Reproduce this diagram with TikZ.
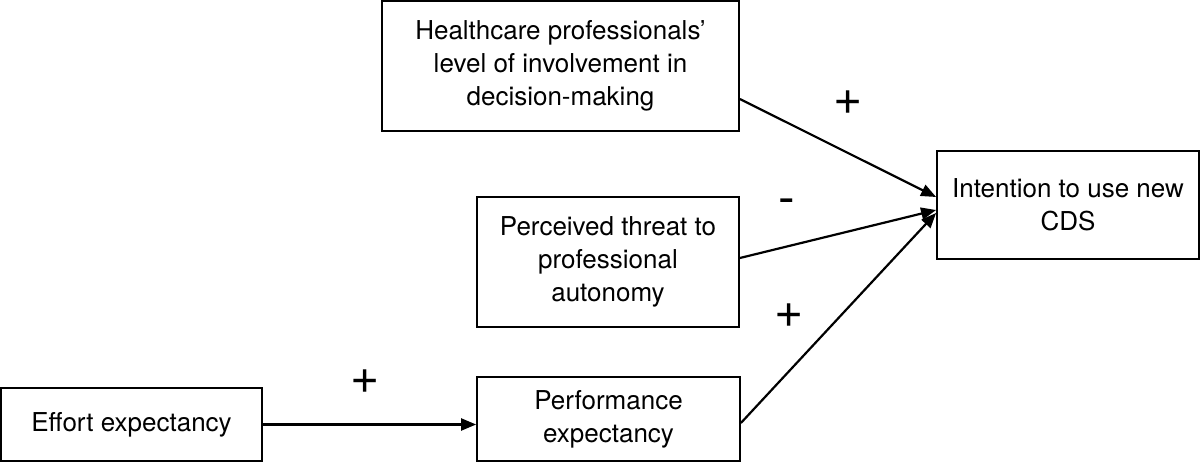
\documentclass[tikz,border=0pt]{standalone}
\usepackage{fontspec}
\setmainfont{TeX Gyre Heros}
\usetikzlibrary{arrows.meta}
\tikzset{
	factor/.style={draw,line width=1.8pt,inner sep=0pt,align=center,
		font=\fontsize{26}{33}\selectfont},
	link/.style={line width=2.2pt,-{Triangle[length=15pt,width=12pt]}},
	sign/.style={font=\fontsize{50}{50}\selectfont},
}
\begin{document}
\begin{tikzpicture}[x=1pt,y=-1pt]
		\useasboundingbox (0,0) rectangle (1200,462);
		
		\node[factor,minimum width=357pt,minimum height=130pt] (hcp) at (560.5,66) {Healthcare professionals’\\ level of involvement in\\decision-making};
		\node[factor,minimum width=262pt,minimum height=108pt] (intent) at (1068,205) {Intention to use new\\CDS};
		\node[factor,minimum width=262pt,minimum height=130pt] (threat) at (608,262) {Perceived threat to\\professional\\autonomy};
		\node[factor,minimum width=261pt,minimum height=73pt] (effort) at (131.5,424.5) {Effort expectancy};
		\node[factor,minimum width=263pt,minimum height=84pt] (perf) at (608.5,419) {Performance\\expectancy};
		
		\draw[link] ([yshift=-33pt]hcp.east) -- ([yshift=8pt]intent.west);
		\draw[link] ([yshift=4pt]threat.east) -- ([yshift=-5pt]intent.west);
		\draw[link] ([yshift=-4pt]perf.east) -- ([yshift=-8pt]intent.west);
		\draw[link] (effort.east) -- (effort.east -| perf.west);
		
		\node[sign] (s1) at (848,103) {+};
		\node[sign] (s2) at (787,207) {-};
		\node[sign] (s3) at (789,316) {+};
		\node[sign] (s4) at (365,382) {+};
	\end{tikzpicture}
\end{document}
